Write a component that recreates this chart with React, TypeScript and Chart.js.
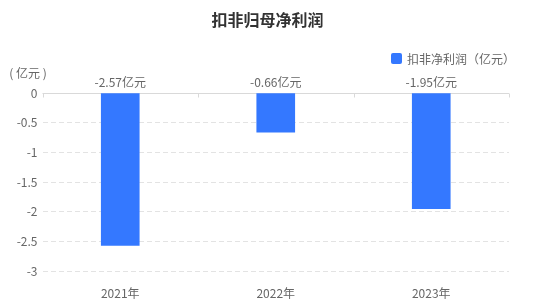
import { useEffect, useRef } from "react";
import { Chart, registerables } from "chart.js";

Chart.register(...registerables);

// Chart content
const chartTitle = "扣非归母净利润";
const seriesName = "扣非净利润（亿元）";
const unitLabel = "( 亿元 )";
const valueSuffix = "亿元";
const categories = ["2021年", "2022年", "2023年"];
const profitValues = [-2.57, -0.66, -1.95];
const yMin = -3;
const yMax = 0;
const yStep = 0.5;

const FONT = '"Noto Sans CJK SC", "Noto Sans", sans-serif';
const BAR_COLOR = "#3478FF";
const TEXT_GRAY = "#666666";

// Draws title, legend, unit label, zero axis line and value labels
const decorPlugin = {
  id: "decor",
  beforeDatasetsDraw(chart: any) {
    const { ctx, chartArea, scales } = chart;
    const y0 = Math.round(scales.y.getPixelForValue(0)) + 0.5;
    ctx.save();
    ctx.strokeStyle = "#d9d9d9";
    ctx.lineWidth = 1;
    ctx.beginPath();
    ctx.moveTo(chartArea.left, y0);
    ctx.lineTo(chartArea.right, y0);
    const step = (chartArea.right - chartArea.left) / categories.length;
    for (let i = 0; i <= categories.length; i++) {
      const x = Math.round(chartArea.left + step * i) + 0.5;
      ctx.moveTo(x, y0);
      ctx.lineTo(x, y0 + 4);
    }
    ctx.stroke();
    ctx.restore();
  },
  afterDraw(chart: any) {
    const { ctx, scales, width } = chart;
    ctx.save();
    ctx.textBaseline = "middle";

    // title
    ctx.fillStyle = "#333333";
    ctx.font = `bold 16px ${FONT}`;
    ctx.textAlign = "center";
    ctx.fillText(chartTitle, width / 2, 20);

    // legend
    ctx.fillStyle = BAR_COLOR;
    ctx.beginPath();
    (ctx as any).roundRect(391, 53, 11, 11, 2);
    ctx.fill();
    ctx.fillStyle = TEXT_GRAY;
    ctx.font = `12px ${FONT}`;
    ctx.textAlign = "left";
    ctx.fillText(seriesName, 407, 59);

    // axis unit
    ctx.textAlign = "center";
    ctx.fillText(unitLabel, 28, 73);

    // value labels above the zero line
    const meta = chart.getDatasetMeta(0);
    const yZero = scales.y.getPixelForValue(0);
    meta.data.forEach((bar: any, i: number) => {
      ctx.fillText(`${profitValues[i]}${valueSuffix}`, bar.x, yZero - 11);
    });
    ctx.restore();
  },
};

export default function App() {
  const canvasRef = useRef<HTMLCanvasElement | null>(null);

  useEffect(() => {
    if (!canvasRef.current) return;
    const chart = new Chart(canvasRef.current, {
      type: "bar",
      data: {
        labels: categories,
        datasets: [
          {
            label: seriesName,
            data: profitValues,
            backgroundColor: BAR_COLOR,
            barThickness: 38,
          },
        ],
      },
      options: {
        responsive: false,
        animation: false,
        layout: { padding: { top: 93, right: 26, left: 0, bottom: 0 } },
        plugins: {
          legend: { display: false },
          title: { display: false },
          tooltip: { enabled: false },
        },
        scales: {
          x: {
            grid: { display: false },
            border: { display: false },
            ticks: {
              color: TEXT_GRAY,
              padding: 7,
              font: { family: FONT, size: 12 },
            },
            afterFit(scale: any) {
              scale.height = 31;
            },
          },
          y: {
            min: yMin,
            max: yMax,
            border: { display: false, dash: [5, 3] },
            grid: {
              drawTicks: false,
              color: (c: any) => (c.tick && c.tick.value === 0 ? "rgba(0,0,0,0)" : "#e3e3e3"),
            },
            ticks: {
              stepSize: yStep,
              color: TEXT_GRAY,
              padding: 5,
              font: { family: FONT, size: 12 },
              callback: (v: any) => String(v),
            },
            afterFit(scale: any) {
              scale.width = 42.5;
            },
          },
        },
      },
      plugins: [decorPlugin],
    });
    return () => chart.destroy();
  }, []);

  return (
    <div style={{ position: "fixed", left: 0, top: 0, width: 535, height: 302, background: "#ffffff" }}>
      <canvas ref={canvasRef} width={535} height={302} />
    </div>
  );
}
